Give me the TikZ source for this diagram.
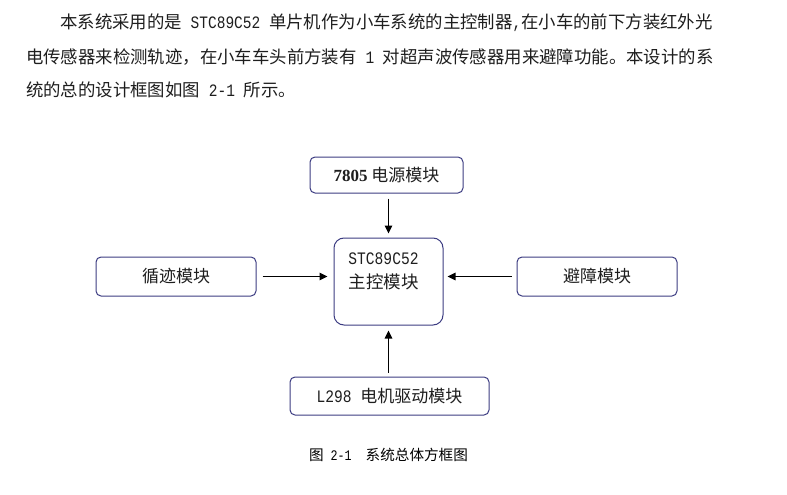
\documentclass[tikz,border=0pt]{standalone}
\usepackage{graphicx}
\usepackage{fontspec}
\setmainfont{Liberation Serif}
\newfontfamily\cjk{Noto Sans CJK SC}
\newfontfamily\monolat{Liberation Mono}
\usetikzlibrary{arrows.meta}
\definecolor{boxc}{RGB}{60,60,130}
\definecolor{txtc}{RGB}{30,30,30}
\newcommand\pl[1]{\scalebox{0.834}[1]{\fontsize{17.4}{20}\selectfont\monolat #1}}
\newcommand\bl[1]{\scalebox{0.834}[1]{\fontsize{17.5}{20}\selectfont\monolat #1}}
\newcommand\cl[1]{\scalebox{0.8}[1]{\fontsize{14.6}{16}\selectfont\monolat #1}}
\tikzset{
  paraline/.style={anchor=base west, inner sep=0pt, text=txtc, font=\fontsize{17.4}{20}\selectfont\cjk},
  modbox/.style={draw=boxc, line width=1pt, rounded corners=5pt, inner sep=0pt, text=txtc, font=\fontsize{17}{20}\selectfont\cjk},
  mainbox/.style={draw=boxc, line width=1pt, rounded corners=10pt, inner sep=0pt},
  arr/.style={draw=black, line width=1.2pt, -{Triangle[length=8pt,width=7.5pt]}}
}
\begin{document}
\begin{tikzpicture}[x=1pt,y=-1pt]
\useasboundingbox (0,0) rectangle (787,495);
\fill[white] (0,0) rectangle (787,495);
% paragraph
\node[paraline] (p1) at (60,28.6) {本系统采用的是\pl{\ STC89C52\ }单片机作为小车系统的主控制器\pl{,}在小车的前下方装红外光};
\node[paraline] (p2) at (26,63.4) {电传感器来检测轨迹，在小车车头前方装有\pl{\ 1\ }对超声波传感器用来避障功能。本设计的系};
\node[paraline] (p3) at (26,96.6) {统的总的设计框图如图\pl{\ 2-1\ }所示。};
% boxes
\node[modbox, minimum width=153pt, minimum height=36pt] (power) at (386.5,175) {{\fontsize{17}{20}\selectfont\rmfamily\bfseries 7805} 电源模块};
\node[mainbox, minimum width=109pt, minimum height=87pt] (main) at (388.5,281.5) {};
\node[inner sep=0pt, align=center, text=txtc, font=\fontsize{17.5}{24}\selectfont\cjk] (mainlabel) at (383.5,271) {\bl{STC89C52}\\主控模块};
\node[modbox, minimum width=160pt, minimum height=39pt] (track) at (176,276.5) {循迹模块};
\node[modbox, minimum width=160pt, minimum height=39pt] (avoid) at (597,276.5) {避障模块};
\node[modbox, minimum width=199pt, minimum height=38pt] (motor) at (389.5,396) {\bl{L298\ }电机驱动模块};
% arrows
\draw[arr, shorten <=5pt, shorten >=4pt] (power.south -| main.north) -- (main.north);
\draw[arr, shorten <=6pt, shorten >=6pt] (track.east) -- (track.east -| main.west);
\draw[arr, shorten <=5pt, shorten >=4pt] (avoid.west) -- (avoid.west -| main.east);
\draw[arr, shorten <=4pt, shorten >=5pt] (motor.north -| main.south) -- (main.south);
% caption
\node[inner sep=0pt, text=black, font=\fontsize{14.6}{16}\selectfont\cjk] (caption) at (388.5,455) {图\cl{\ 2-1\ \ }系统总体方框图};
\end{tikzpicture}
\end{document}
